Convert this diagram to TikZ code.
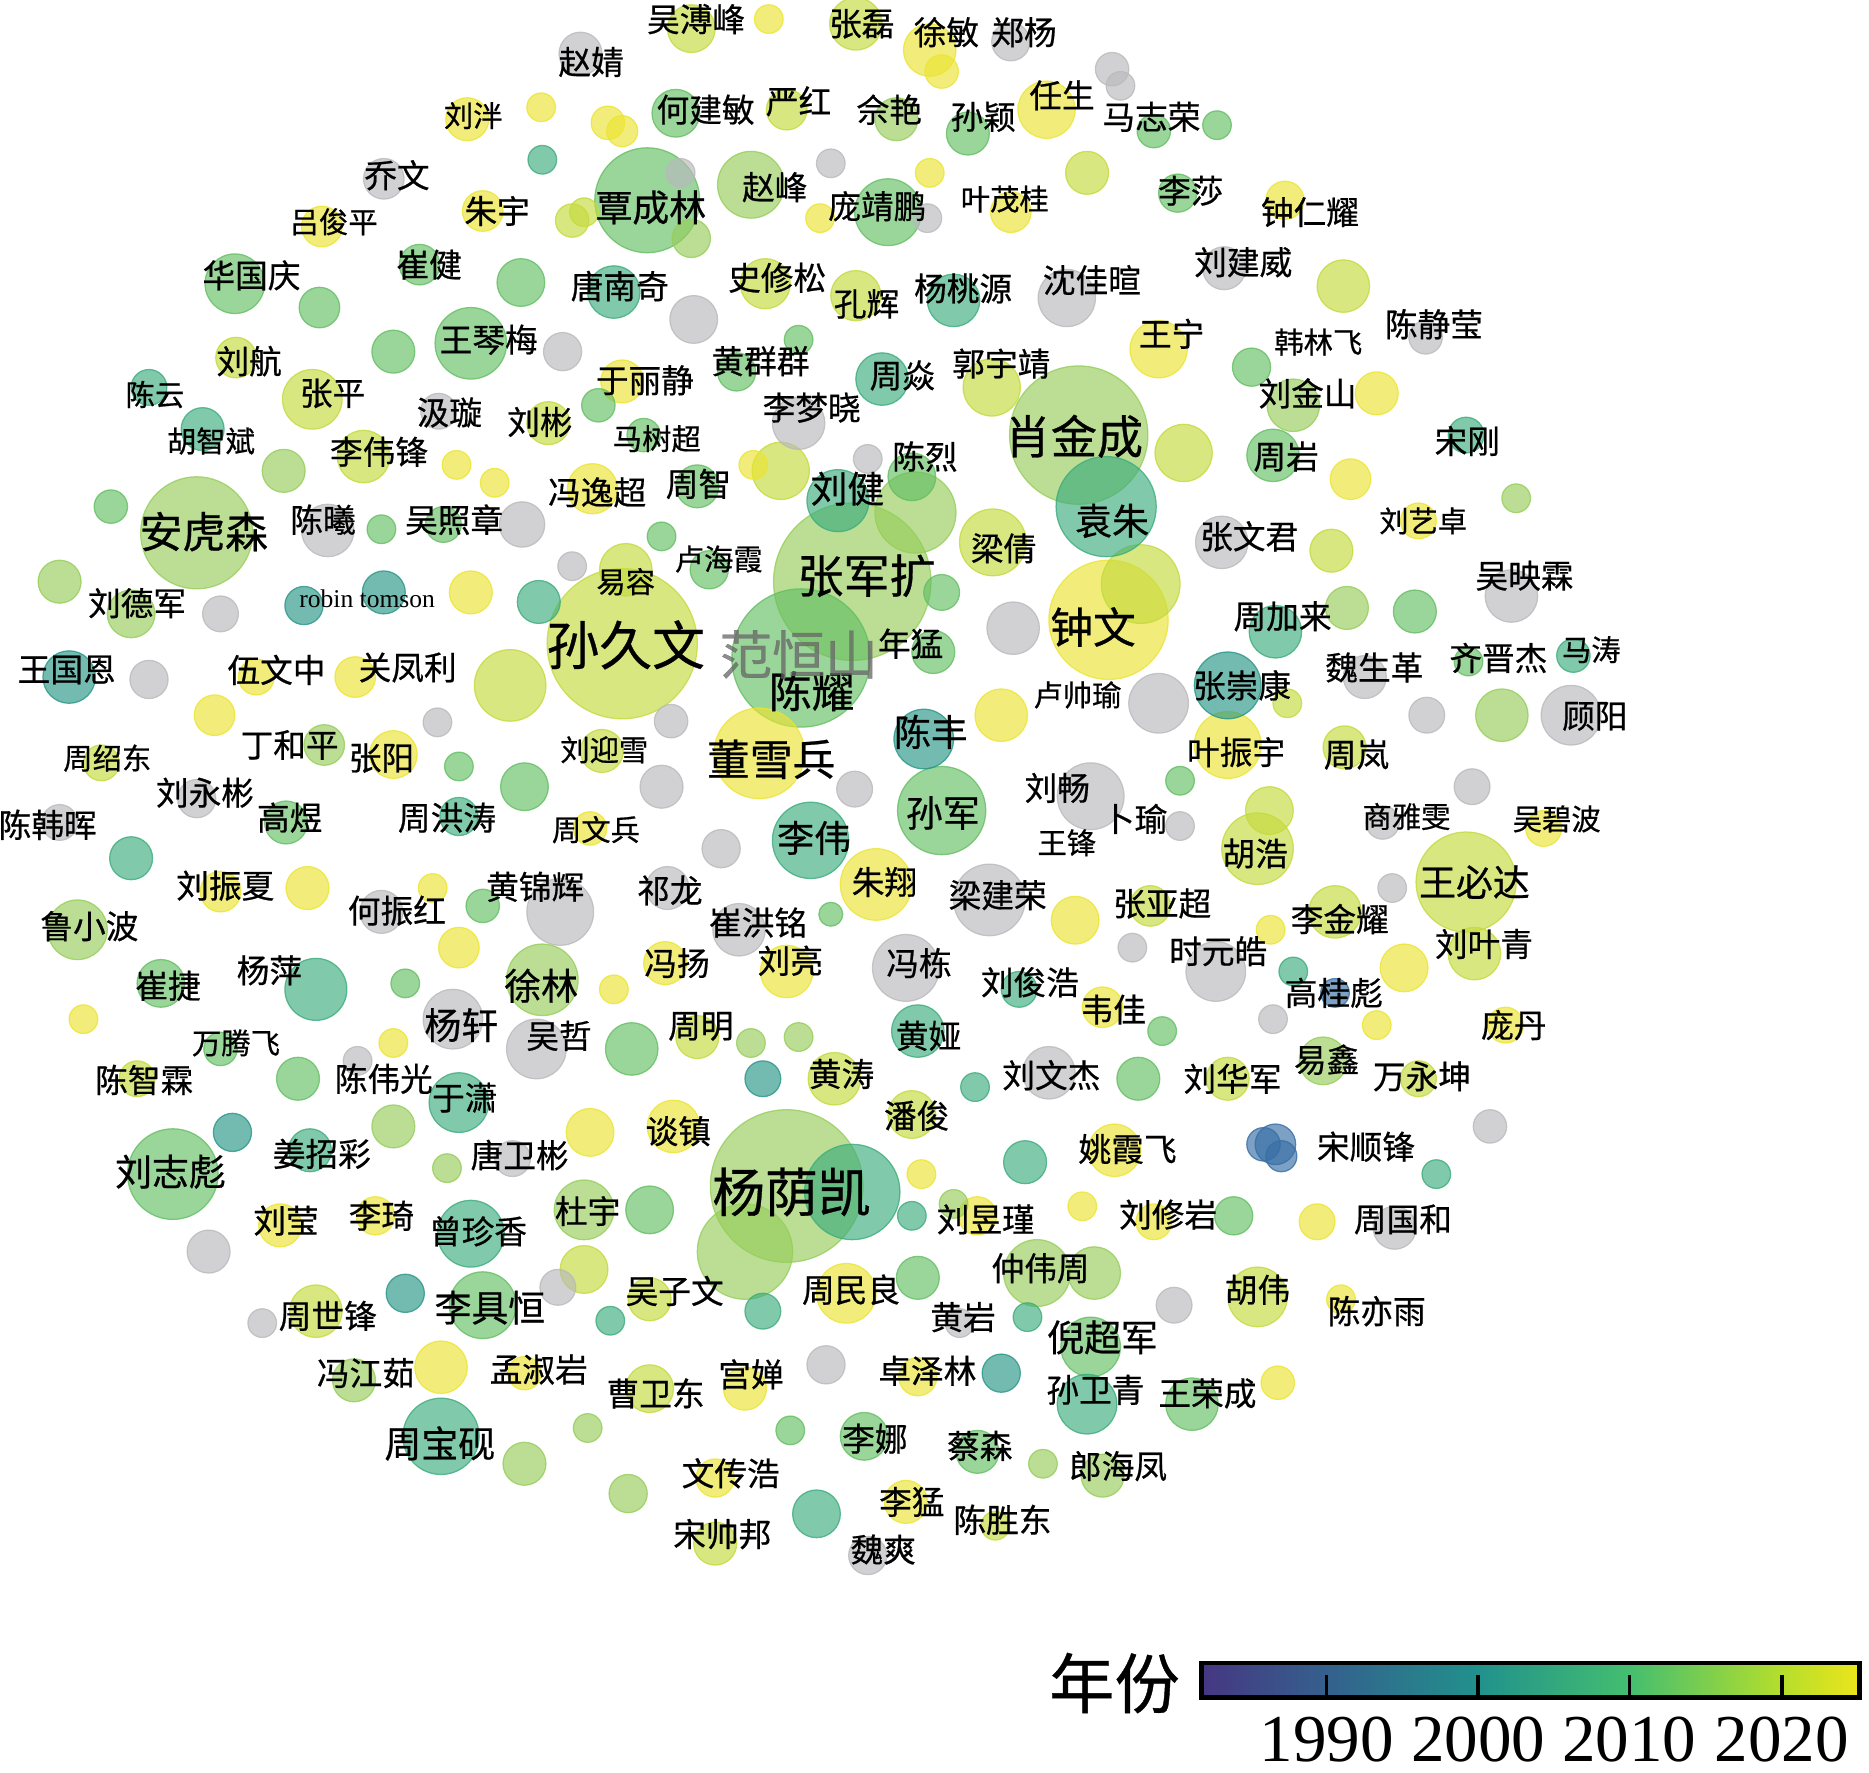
\documentclass[tikz,border=0pt]{standalone}
\usepackage{fontspec}
\setmainfont{Liberation Serif}
\newfontfamily\song{Noto Sans CJK SC}[RawFeature={embolden=0.6}]
\usepackage{tikz}
\usetikzlibrary{positioning}
\usepackage{xcolor}
% bubble colours (years, viridis-like)
\definecolor{cY}{RGB}{235,228,50}
\definecolor{cYG}{RGB}{196,218,60}
\definecolor{cLG}{RGB}{150,205,90}
\definecolor{cG}{RGB}{100,190,100}
\definecolor{cTG}{RGB}{60,172,125}
\definecolor{cT}{RGB}{40,150,135}
\definecolor{cB}{RGB}{55,110,165}
\definecolor{cGr}{RGB}{185,185,188}
% colour bar
\definecolor{vA}{RGB}{70,55,130}
\definecolor{vB}{RGB}{52,96,141}
\definecolor{vC}{RGB}{33,145,140}
\definecolor{vD}{RGB}{68,190,112}
\definecolor{vE}{RGB}{180,222,44}
\definecolor{vF}{RGB}{236,229,27}
\pgfdeclarehorizontalshading{viridisbar}{100bp}{color(0bp)=(vA); color(25bp)=(vA);
  color(34.5bp)=(vB); color(46bp)=(vC); color(57.5bp)=(vD); color(69bp)=(vE);
  color(75bp)=(vF); color(100bp)=(vF)}
\tikzset{
  bub/.style={fill=#1, fill opacity=.65, draw=#1, draw opacity=.8, line width=.3pt},
  ns/.style={font=\song\fontsize{7}{7}\selectfont, inner sep=0pt},
  nm/.style={font=\song\fontsize{7.8}{8}\selectfont, inner sep=0pt},
  nl/.style={font=\song\fontsize{8.8}{9}\selectfont, inner sep=0pt},
  nL/.style={font=\song\fontsize{10.2}{10}\selectfont, inner sep=0pt},
  nLL/.style={font=\song\fontsize{11}{11}\selectfont, inner sep=0pt},
  nX/.style={font=\song\fontsize{12.6}{13}\selectfont, inner sep=0pt},
}

\begin{document}
\begin{tikzpicture}[x=0.1mm, y=-0.1mm]
  \useasboundingbox (0,0) rectangle (1568,1487);
  % large bubbles first
  \foreach \x/\y/\r/\c in {522/540/63/cYG, 715/488/66/cLG, 672/552/58/cG,
      905/365/58/cLG, 660/995/64/cLG, 715/1000/40/cTG, 625/1050/40/cLG,
      930/520/50/cY, 957/490/33/cYG, 928/425/42/cTG, 165/447/47/cLG,
      543/168/44/cG, 1230/740/42/cYG, 145/985/38/cG, 637/632/38/cY,
      790/680/37/cG, 680/705/32/cTG, 455/822/30/cLG, 768/430/34/cLG,
      703/420/26/cTG, 630/155/28/cLG, 745/178/28/cG, 395/288/30/cG,
      833/455/28/cYG, 1055/712/30/cYG, 735/742/30/cY, 1030/625/28/cY,
      1030/575/28/cT, 830/755/30/cGr, 760/812/28/cGr, 470/765/28/cGr,
      370/1205/32/cTG, 395/1035/28/cTG, 405/1095/28/cG, 870/1068/28/cLG,
      265/830/26/cTG, 428/575/30/cYG, 915/668/28/cGr, 655/395/24/cYG}
    \path[bub=\c] (\x,\y) circle[radius=\r];
  % medium bubbles
  \foreach \x/\y/\r/\c in {580/24/20/cYG, 718/20/22/cYG, 780/42/22/cY,
      848/35/16/cGr, 487/45/18/cGr, 392/100/18/cY, 567/95/20/cG, 660/92/17/cYG,
      752/100/18/cLG, 812/112/18/cG, 878/92/24/cY, 322/150/17/cGr,
      405/177/17/cY, 270/190/17/cY, 848/178/17/cY, 912/145/18/cYG,
      988/162/16/cG, 1078/168/16/cY, 580/200/16/cLG, 352/222/17/cG,
      197/238/25/cG, 268/258/17/cG, 437/237/20/cG, 515/245/22/cTG,
      642/238/21/cYG, 718/248/21/cYG, 800/252/22/cTG, 895/250/24/cGr,
      1027/225/18/cGr, 1127/240/22/cYG, 582/268/20/cGr, 330/295/18/cG,
      472/295/16/cGr, 198/300/17/cYG, 972/293/24/cY, 1050/308/16/cG,
      262/335/25/cYG, 368/345/15/cGr, 460/355/18/cYG, 522/320/18/cY,
      618/312/16/cG, 740/318/22/cTG, 832/325/24/cYG, 1085/340/22/cLG,
      1155/330/18/cY, 670/355/22/cGr, 170/360/18/cTG, 125/325/15/cTG,
      305/383/22/cYG, 238/395/18/cLG, 993/380/24/cYG, 765/400/20/cG,
      1068/382/22/cG, 1133/402/17/cY, 497/410/21/cY, 585/408/18/cG,
      275/445/22/cGr, 438/440/19/cGr, 372/440/15/cG, 1025/455/22/cGr,
      1190/437/15/cY, 1117/462/18/cYG, 1230/365/15/cTG, 525/478/22/cYG,
      595/478/16/cG, 783/547/18/cG, 790/497/15/cG, 850/527/22/cGr,
      1070/530/22/cTG, 1268/500/22/cGr, 110/515/20/cLG, 50/488/18/cLG,
      255/508/16/cT, 322/497/18/cT, 395/497/18/cY, 452/505/18/cTG,
      1130/510/18/cLG, 1187/513/18/cG, 1145/568/18/cGr, 58/568/22/cT,
      125/570/16/cGr, 215/568/15/cY, 298/568/17/cY, 840/600/22/cY,
      775/620/25/cT, 972/590/25/cGr, 1260/600/22/cLG, 1318/600/25/cGr,
      1197/600/15/cGr, 180/600/17/cY, 272/625/17/cLG, 330/633/20/cY,
      505/630/18/cYG, 1128/627/18/cYG, 85/640/15/cYG, 165/670/16/cGr,
      50/690/15/cGr, 240/690/18/cG, 385/685/16/cTG, 440/660/20/cG,
      555/660/18/cGr, 605/712/16/cGr, 717/662/15/cGr, 1065/680/20/cYG,
      1160/690/14/cGr, 1235/660/15/cGr, 1295/695/15/cY, 185/748/17/cY,
      258/745/18/cY, 110/720/18/cTG, 320/765/18/cGr, 560/745/18/cGr,
      965/760/17/cYG, 902/772/20/cY, 1120/765/22/cYG, 1237/800/22/cYG,
      65/780/25/cLG, 620/780/22/cGr, 558/808/18/cY, 660/815/22/cY,
      1020/815/25/cGr, 1178/812/20/cY, 925/845/17/cY, 855/830/15/cTG,
      135/825/20/cG, 380/855/25/cGr, 450/880/25/cGr, 385/795/17/cY,
      585/870/18/cYG, 770/865/22/cTG, 530/880/22/cG, 700/905/22/cYG,
      880/900/22/cGr, 955/905/18/cG, 1030/905/18/cYG, 1110/890/20/cLG,
      1190/905/15/cYG, 250/905/18/cG, 385/925/25/cTG, 765/935/20/cYG,
      565/945/22/cY, 495/950/20/cY, 935/965/22/cY, 1070/960/17/cB,
      260/965/18/cTG, 195/950/16/cT, 330/945/18/cLG, 430/972/15/cGr,
      490/1015/25/cLG, 545/1015/20/cG, 175/1050/18/cGr, 235/1028/18/cY,
      315/1020/16/cY, 490/1065/20/cYG, 820/1020/16/cY, 968/1025/15/cY,
      1035/1020/16/cG, 1105/1025/15/cY, 1170/1030/18/cGr, 860/975/18/cTG,
      265/1100/22/cYG, 340/1085/16/cT, 545/1090/18/cYG, 710/1085/25/cY,
      918/1068/22/cLG, 1055/1088/25/cYG, 985/1095/15/cGr, 915/1130/25/cG,
      297/1158/18/cLG, 370/1147/22/cY, 545/1165/20/cYG, 625/1165/18/cY,
      770/1155/16/cY, 840/1152/16/cT, 912/1178/25/cTG, 1000/1178/22/cG,
      440/1228/18/cLG, 725/1205/20/cG, 820/1218/18/cG, 925/1238/18/cLG,
      600/1240/16/cY, 760/1260/18/cY, 685/1270/20/cTG, 600/1295/18/cYG,
      728/1305/16/cGr, 693/1145/16/cGr, 527/1253/16/cLG}
    \path[bub=\c] (\x,\y) circle[radius=\r];
  % small bubbles
  \foreach \x/\y/\r/\c in {645/16/12/cY, 790/60/14/cY, 933/58/14/cGr,
      940/72/12/cGr, 454/90/12/cY, 510/103/14/cY, 522/110/13/cY, 968/110/14/cG,
      1021/105/12/cG, 455/134/12/cTG, 571/145/12/cGr, 697/137/12/cGr,
      780/145/12/cY, 688/183/12/cY, 778/183/12/cGr, 480/185/14/cYG,
      490/178/12/cYG, 1196/283/14/cGr, 670/285/12/cG, 502/340/14/cG,
      540/365/14/cG, 383/390/12/cY, 415/405/12/cY, 632/390/12/cY,
      728/385/12/cGr, 1272/418/12/cLG, 93/425/14/cG, 320/444/12/cG,
      555/450/12/cG, 480/475/12/cGr, 185/515/15/cGr, 1232/555/12/cG,
      1320/550/14/cTG, 1080/590/12/cYG, 367/606/12/cGr, 563/605/14/cGr,
      385/643/12/cG, 495/695/14/cY, 990/655/12/cG, 990/693/12/cGr,
      363/745/12/cY, 1066/780/12/cY, 950/795/12/cGr, 697/767/10/cG,
      1168/745/12/cGr, 405/760/14/cG, 70/855/12/cY, 340/825/12/cG,
      515/830/12/cY, 1085/815/12/cTG, 1120/833/12/cB, 1155/860/12/cY,
      1068/855/12/cGr, 1263/860/15/cY, 330/875/12/cY, 300/890/12/cGr,
      185/880/14/cG, 115/905/15/cYG, 630/875/12/cLG, 670/870/12/cLG,
      640/905/15/cT, 818/912/12/cTG, 975/865/12/cG, 1250/945/14/cGr,
      1205/985/12/cTG, 375/980/12/cLG, 765/1020/12/cTG, 800/1010/12/cLG,
      908/1012/12/cY, 773/985/12/cY, 1125/1090/12/cY, 805/1110/12/cGr,
      862/1105/12/cTG, 220/1110/12/cGr, 512/1108/12/cTG, 640/1100/15/cTG,
      770/1072/18/cG, 468/1080/15/cGr, 440/1152/14/cY, 1072/1160/14/cY,
      493/1198/12/cLG, 663/1200/12/cG, 875/1228/12/cLG, 835/1280/12/cYG,
      1060/960/14/cB, 1075/970/13/cB}
    \path[bub=\c] (\x,\y) circle[radius=\r];

  % author names
  \foreach \x/\y/\t [count=\i] in {397/97/刘泮, 280/186/吕俊平, 843/167/叶茂桂,
      1106/287/韩林飞, 130/331/陈云, 551/368/马树超, 177/370/胡智斌,
      1194/437/刘艺卓, 525/488/易容, 603/469/卢海霞, 904/583/卢帅瑜,
      1335/545/马涛, 90/636/周绍东, 507/629/刘迎雪, 500/696/周文兵,
      895/707/王锋, 1180/685/商雅雯, 1306/687/吴碧波, 198/875/万腾飞}
    \node[ns] (s\i) at (\x,\y) {\t};
  \foreach \x/\y/\t [count=\i] in {584/16/吴溥峰, 723/20/张磊, 794/27/徐敏,
      859/27/郑杨, 496/52/赵婧, 592/92/何建敏, 670/85/严红, 746/92/佘艳,
      825/98/孙颖, 891/80/任生, 966/98/马志荣, 333/147/乔文, 417/177/朱宇,
      650/157/赵峰, 736/173/庞靖鹏, 999/160/李莎, 1099/178/钟仁耀,
      360/222/崔健, 211/231/华国庆, 520/240/唐南奇, 652/233/史修松,
      727/255/孔辉, 808/242/杨桃源, 916/235/沈佳暄, 1043/220/刘建威,
      1203/272/陈静莹, 410/285/王琴梅, 209/303/刘航, 983/280/王宁,
      638/303/黄群群, 840/305/郭宇靖, 541/319/于丽静, 757/315/周焱,
      1097/330/刘金山, 279/330/张平, 377/346/汲璇, 453/354/刘彬,
      681/342/李梦晓, 318/379/李伟锋, 776/383/陈烈, 1079/383/周岩,
      1231/370/宋刚, 501/413/冯逸超, 586/406/周智, 271/436/陈曦,
      381/436/吴照章, 842/460/梁倩, 1048/450/张文君, 1279/483/吴映霖,
      115/506/刘德军, 764/540/年猛, 1076/517/周加来, 56/562/王国恩,
      232/562/伍文中, 342/560/关凤利, 1042/575/张崇康, 1153/560/魏生革,
      1257/552/齐晋杰, 1338/601/顾阳, 243/625/丁和平, 320/636/张阳,
      1037/631/叶振宇, 1138/633/周岚, 172/665/刘永彬, 40/692/陈韩晖,
      243/686/高煜, 375/686/周洪涛, 887/661/刘畅, 952/687/卜瑜,
      1053/716/胡浩, 189/743/刘振夏, 333/764/何振红, 449/744/黄锦辉,
      562/747/祁龙, 742/740/朱翔, 837/751/梁建荣, 975/758/张亚超,
      1124/771/李金耀, 1245/792/刘叶青, 75/777/鲁小波, 636/774/崔洪铭,
      568/808/冯扬, 663/806/刘亮, 771/808/冯栋, 1022/798/时元皓,
      864/824/刘俊浩, 934/847/韦佳, 1119/833/高桂彪, 226/814/杨萍,
      141/827/崔捷, 469/869/吴哲, 588/861/周明, 779/869/黄娅,
      1270/860/庞丹, 121/906/陈智霖, 322/905/陈伟光, 390/921/于潇,
      706/901/黄涛, 882/902/刘文杰, 1034/905/刘华军, 1113/889/易鑫,
      1193/903/万永坤, 769/936/潘俊, 569/949/谈镇, 270/968/姜招彩,
      436/969/唐卫彬, 946/964/姚霞飞, 1146/962/宋顺锋, 493/1016/杜宇,
      240/1024/刘莹, 320/1020/李琦, 401/1033/曾珍香, 827/1023/刘昱瑾,
      980/1019/刘修岩, 1177/1023/周国和, 275/1104/周世锋, 566/1083/吴子文,
      714/1082/周民良, 873/1064/仲伟周, 808/1105/黄岩, 1055/1082/胡伟,
      1155/1100/陈亦雨, 307/1152/冯江茹, 452/1149/孟淑岩, 550/1169/曹卫东,
      630/1153/宫婵, 778/1150/卓泽林, 919/1166/孙卫青, 1013/1169/王荣成,
      734/1207/李娜, 822/1213/蔡森, 938/1230/郎海凤, 613/1236/文传浩,
      765/1260/李猛, 841/1275/陈胜东, 606/1287/宋帅邦, 741/1300/魏爽}
    \node[nm] (m\i) at (\x,\y) {\t};
  \foreach \x/\y/\t [count=\i] in {546/174/覃成林, 711/410/刘健, 933/437/袁朱,
      781/614/陈丰, 791/682/孙军, 683/703/李伟, 1237/740/王必达,
      454/827/徐林, 387/860/杨轩, 143/983/刘志彪, 411/1097/李具恒,
      925/1122/倪超军, 369/1211/周宝砚}
    \node[nl] (l\i) at (\x,\y) {\t};
  \node[nL] (ahs) at (171,446) {安虎森};
  \node[nL] (cy) at (681,580) {陈耀};
  \node[nL] (zw) at (917,526) {钟文};
  \node[nL] (dxb) at (647,637) {董雪兵};
  \node[nLL] (xjc) at (901,366) {肖金成};
  \node[nLL] (zjk) at (727,483) {张军扩};
  \node[nX] (sjw) at (525,541) {孙久文};
  \node[nX, text=black!60, text opacity=.75] (fhs) at (670,549) {范恒山};
  \node[nX] (yyk) at (664,1000) {杨荫凯};
  \node[font=\fontsize{6.1}{6}\selectfont, inner sep=0pt] (rt) at (308,502) {robin tomson};

  % colour bar
  \node[font=\song\fontsize{15.6}{16}\selectfont, inner sep=0pt] (yr) at (935,1412) {年份};
  \path[shading=viridisbar] (1008,1395) rectangle (1560,1424);
  \draw[line width=1.1pt] (1008,1395) rectangle (1560,1424);
  \foreach \t/\v [count=\i] in {1113/1990, 1240/2000, 1367/2010, 1495/2020} {
    \draw[line width=.8pt] (\t,1424) -- (\t,1405);
    \node[font=\fontsize{16}{16}\selectfont, inner sep=0pt] (tk\i) at (\t,1459) {\v};
  }
\end{tikzpicture}
\end{document}
